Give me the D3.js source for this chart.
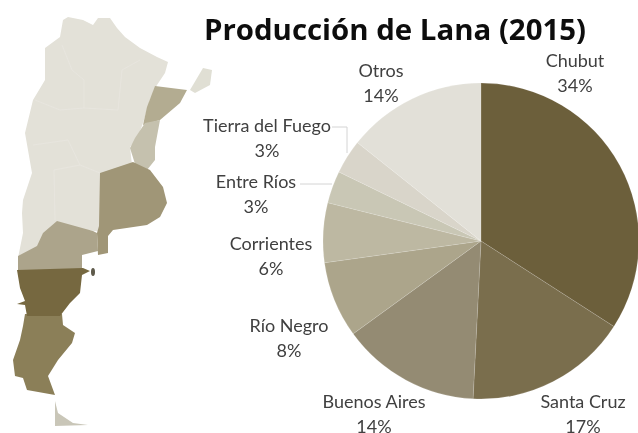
<!DOCTYPE html>
<html>
<head>
<meta charset="utf-8">
<script src="https://cdn.jsdelivr.net/npm/d3@7"></script>
<style>
body { margin: 0; background: #fff; }
text { font-family: Lato, sans-serif; fill: #3f3f3f; }
</style>
</head>
<body>
<script>
var w = 638;
var h = 433;

// pie data, clockwise from 12 o'clock
var categories = ["Chubut", "Santa Cruz", "Buenos Aires", "Río Negro", "Corrientes", "Entre Ríos", "Tierra del Fuego", "Otros"];
var values = [34.1, 16.7, 14.2, 7.8, 6.1, 3.3, 3.5, 14.3];
var percentLabels = ["34%", "17%", "14%", "8%", "6%", "3%", "3%", "14%"];
var sliceColors = ["#6c5e3b", "#7a6e4e", "#948b73", "#aca58b", "#bdb8a2", "#c9c7b5", "#d9d5ca", "#e2e0d8"];

// label anchors
var labelX = [575, 583, 374, 289, 271, 256, 267, 381];
var labelY = [67, 408, 408, 332, 250, 188, 132, 77];

// map regions, in picture pixels
var mapNames = ["Norte", "Misiones", "Corrientes", "Entre Ríos", "Buenos Aires", "La Pampa y Río Negro", "Santa Cruz", "Chubut", "Tierra del Fuego"];
var mapColors = ["#e3e1d8", "#e0dfd4", "#b3ac91", "#c5c1ae", "#a09677", "#aca48b", "#8b7f59", "#76683f", "#c9c6b8"];
var mapShapes = [
  [[63,20],[68,17],[83,20],[93,25],[98,18],[110,18],[117,28],[125,37],[140,48],[157,57],[168,62],[165,73],[157,85],[150,100],[143,123],[138,137],[130,147],[132,165],[102,175],[102,232],[57,226],[43,238],[37,250],[18,258],[23,233],[22,213],[23,200],[32,173],[25,133],[33,100],[45,80],[45,48],[60,37]],
  [[190,90],[203,68],[212,70],[210,85],[195,93]],
  [[155,86],[187,90],[180,103],[160,120],[143,125],[147,107]],
  [[145,123],[160,120],[155,147],[155,160],[147,170],[135,164],[130,148],[135,138]],
  [[100,173],[133,162],[150,170],[163,187],[167,203],[160,217],[147,225],[113,230],[108,236],[108,253],[98,255],[97,233],[99,226]],
  [[57,221],[93,231],[97,233],[98,251],[82,255],[82,272],[18,272],[18,256],[37,246],[43,233]],
  [[25,314],[62,314],[63,325],[75,333],[72,343],[58,360],[48,376],[55,395],[27,390],[23,378],[15,376],[13,360],[20,340],[23,326]],
  [[17,270],[83,268],[90,271],[82,275],[80,293],[70,303],[60,316],[27,316],[25,305],[17,304],[25,301],[20,288]],
  [[55,401],[58,413],[73,423],[88,425],[55,426]]
];

// faint province borders inside the light part
var borders = [
  [[62,45],[72,70],[84,80],[84,108],[118,110],[122,70],[140,60]],
  [[35,100],[60,110],[84,108]],
  [[33,145],[68,140],[80,165],[100,173]],
  [[55,220],[54,170],[80,165]]
];

var svg = d3.select("body").append("svg")
    .attr("width", w)
    .attr("height", h)
    .style("display", "block");

// soft edges like the scanned picture
var defs = svg.append("defs");
defs.append("filter").attr("id", "soft")
  .append("feGaussianBlur").attr("stdDeviation", 0.7);
defs.append("filter").attr("id", "softText")
  .append("feGaussianBlur").attr("stdDeviation", 0.35);

// map
var line = d3.line().curve(d3.curveLinearClosed);
var map = svg.append("g").attr("filter", "url(#soft)");

map.selectAll("path.region")
  .data(mapShapes)
  .enter().append("path")
    .attr("class", "region")
    .attr("d", function(d) { return line(d); })
    .attr("fill", function(d, i) { return mapColors[i]; })
    .append("title").text(function(d, i) { return mapNames[i]; });

map.selectAll("path.border")
  .data(borders)
  .enter().append("path")
    .attr("class", "border")
    .attr("d", d3.line())
    .attr("fill", "none")
    .attr("stroke", "#e8e6df")
    .attr("stroke-width", 0.8);

// small island off Chubut
map.append("ellipse")
    .attr("cx", 93)
    .attr("cy", 272)
    .attr("rx", 2)
    .attr("ry", 4)
    .attr("fill", "#5e5a4c");

// pie
var radius = 158;
var pie = d3.pie().sort(null)(values);
var arc = d3.arc().innerRadius(0).outerRadius(radius);

svg.append("g")
    .attr("transform", "translate(481,241)")
    .attr("filter", "url(#soft)")
  .selectAll("path")
  .data(pie)
  .enter().append("path")
    .attr("d", arc)
    .attr("fill", function(d, i) { return sliceColors[i]; })
    .attr("stroke", "#ffffff")
    .attr("stroke-opacity", 0.12)
    .attr("stroke-width", 1);

// leader lines
var leaders = [
  [[332,127],[347,127],[347,153]],
  [[300,184],[332,184]]
];
svg.append("g").selectAll("path")
  .data(leaders)
  .enter().append("path")
    .attr("d", d3.line())
    .attr("fill", "none")
    .attr("stroke", "#d4d4d4")
    .attr("stroke-width", 1);

// title
svg.append("text")
    .attr("x", 395)
    .attr("y", 40)
    .attr("text-anchor", "middle")
    .style("font-family", "'Open Sans', sans-serif")
    .attr("font-size", 29.4)
    .attr("font-weight", 700)
    .attr("filter", "url(#softText)")
    .style("fill", "#111")
    .text("Producción de Lana (2015)");

// labels
var labels = svg.append("g")
    .attr("filter", "url(#softText)")
  .selectAll("text")
  .data(categories)
  .enter().append("text")
    .attr("text-anchor", "middle")
    .attr("font-size", 18);

labels.append("tspan")
    .attr("x", function(d, i) { return labelX[i]; })
    .attr("y", function(d, i) { return labelY[i]; })
    .text(function(d) { return d; });

labels.append("tspan")
    .attr("x", function(d, i) { return labelX[i]; })
    .attr("y", function(d, i) { return labelY[i] + 25; })
    .text(function(d, i) { return percentLabels[i]; });
</script>
</body>
</html>
